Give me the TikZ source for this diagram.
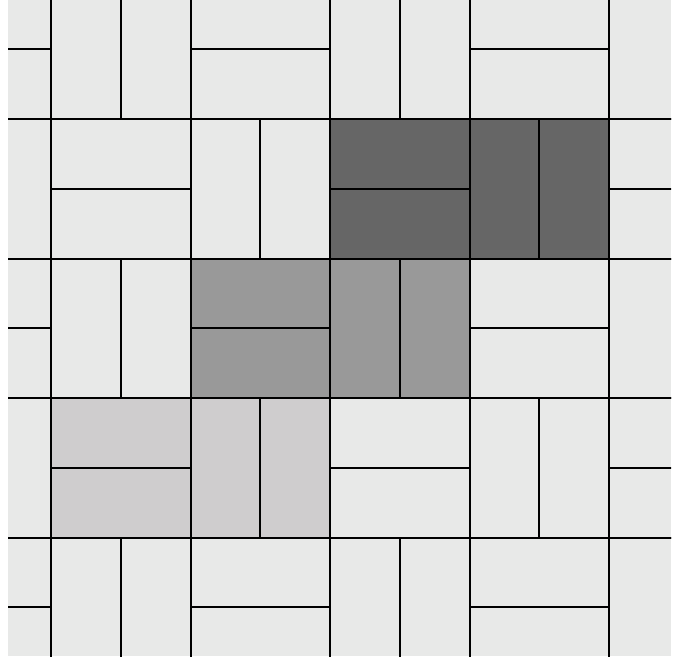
\documentclass[tikz,border=0pt]{standalone}
\definecolor{bgc}{HTML}{E8E9E8}
\definecolor{darkc}{HTML}{666666}
\definecolor{midc}{HTML}{999999}
\definecolor{lightc}{HTML}{CFCDCE}
\tikzset{blockline/.style={line width=2pt,black},innerline/.style={line width=2pt,black}}
\begin{document}
\begin{tikzpicture}[x=1pt,y=-1pt]
\useasboundingbox (0,0) rectangle (680,656);
\begin{scope}
\clip (8,0) rectangle (671,656);
\fill[bgc] (8,0) rectangle (671,656);
\fill[darkc] (330,119) rectangle (609,258.5);
\fill[midc] (190.5,258.5) rectangle (469.5,398);
\fill[lightc] (51,398) rectangle (330,537.5);
\foreach \i in {-1,...,4}{
  \foreach \j in {0,...,4}{
    \pgfmathsetmacro\xa{51+139.5*\i}
    \pgfmathsetmacro\ya{119+139.5*(\j-1)}
    \pgfmathtruncatemacro\o{mod(\i+\j+10,2)}
    \ifnum\o=0
      \draw[innerline] (\xa+69.75,\ya) -- (\xa+69.75,\ya+139.5);
    \else
      \draw[innerline] (\xa,\ya+69.75) -- (\xa+139.5,\ya+69.75);
    \fi
    \draw[blockline] (\xa,\ya) rectangle (\xa+139.5,\ya+139.5);
  }
}
\end{scope}
\end{tikzpicture}
\end{document}
